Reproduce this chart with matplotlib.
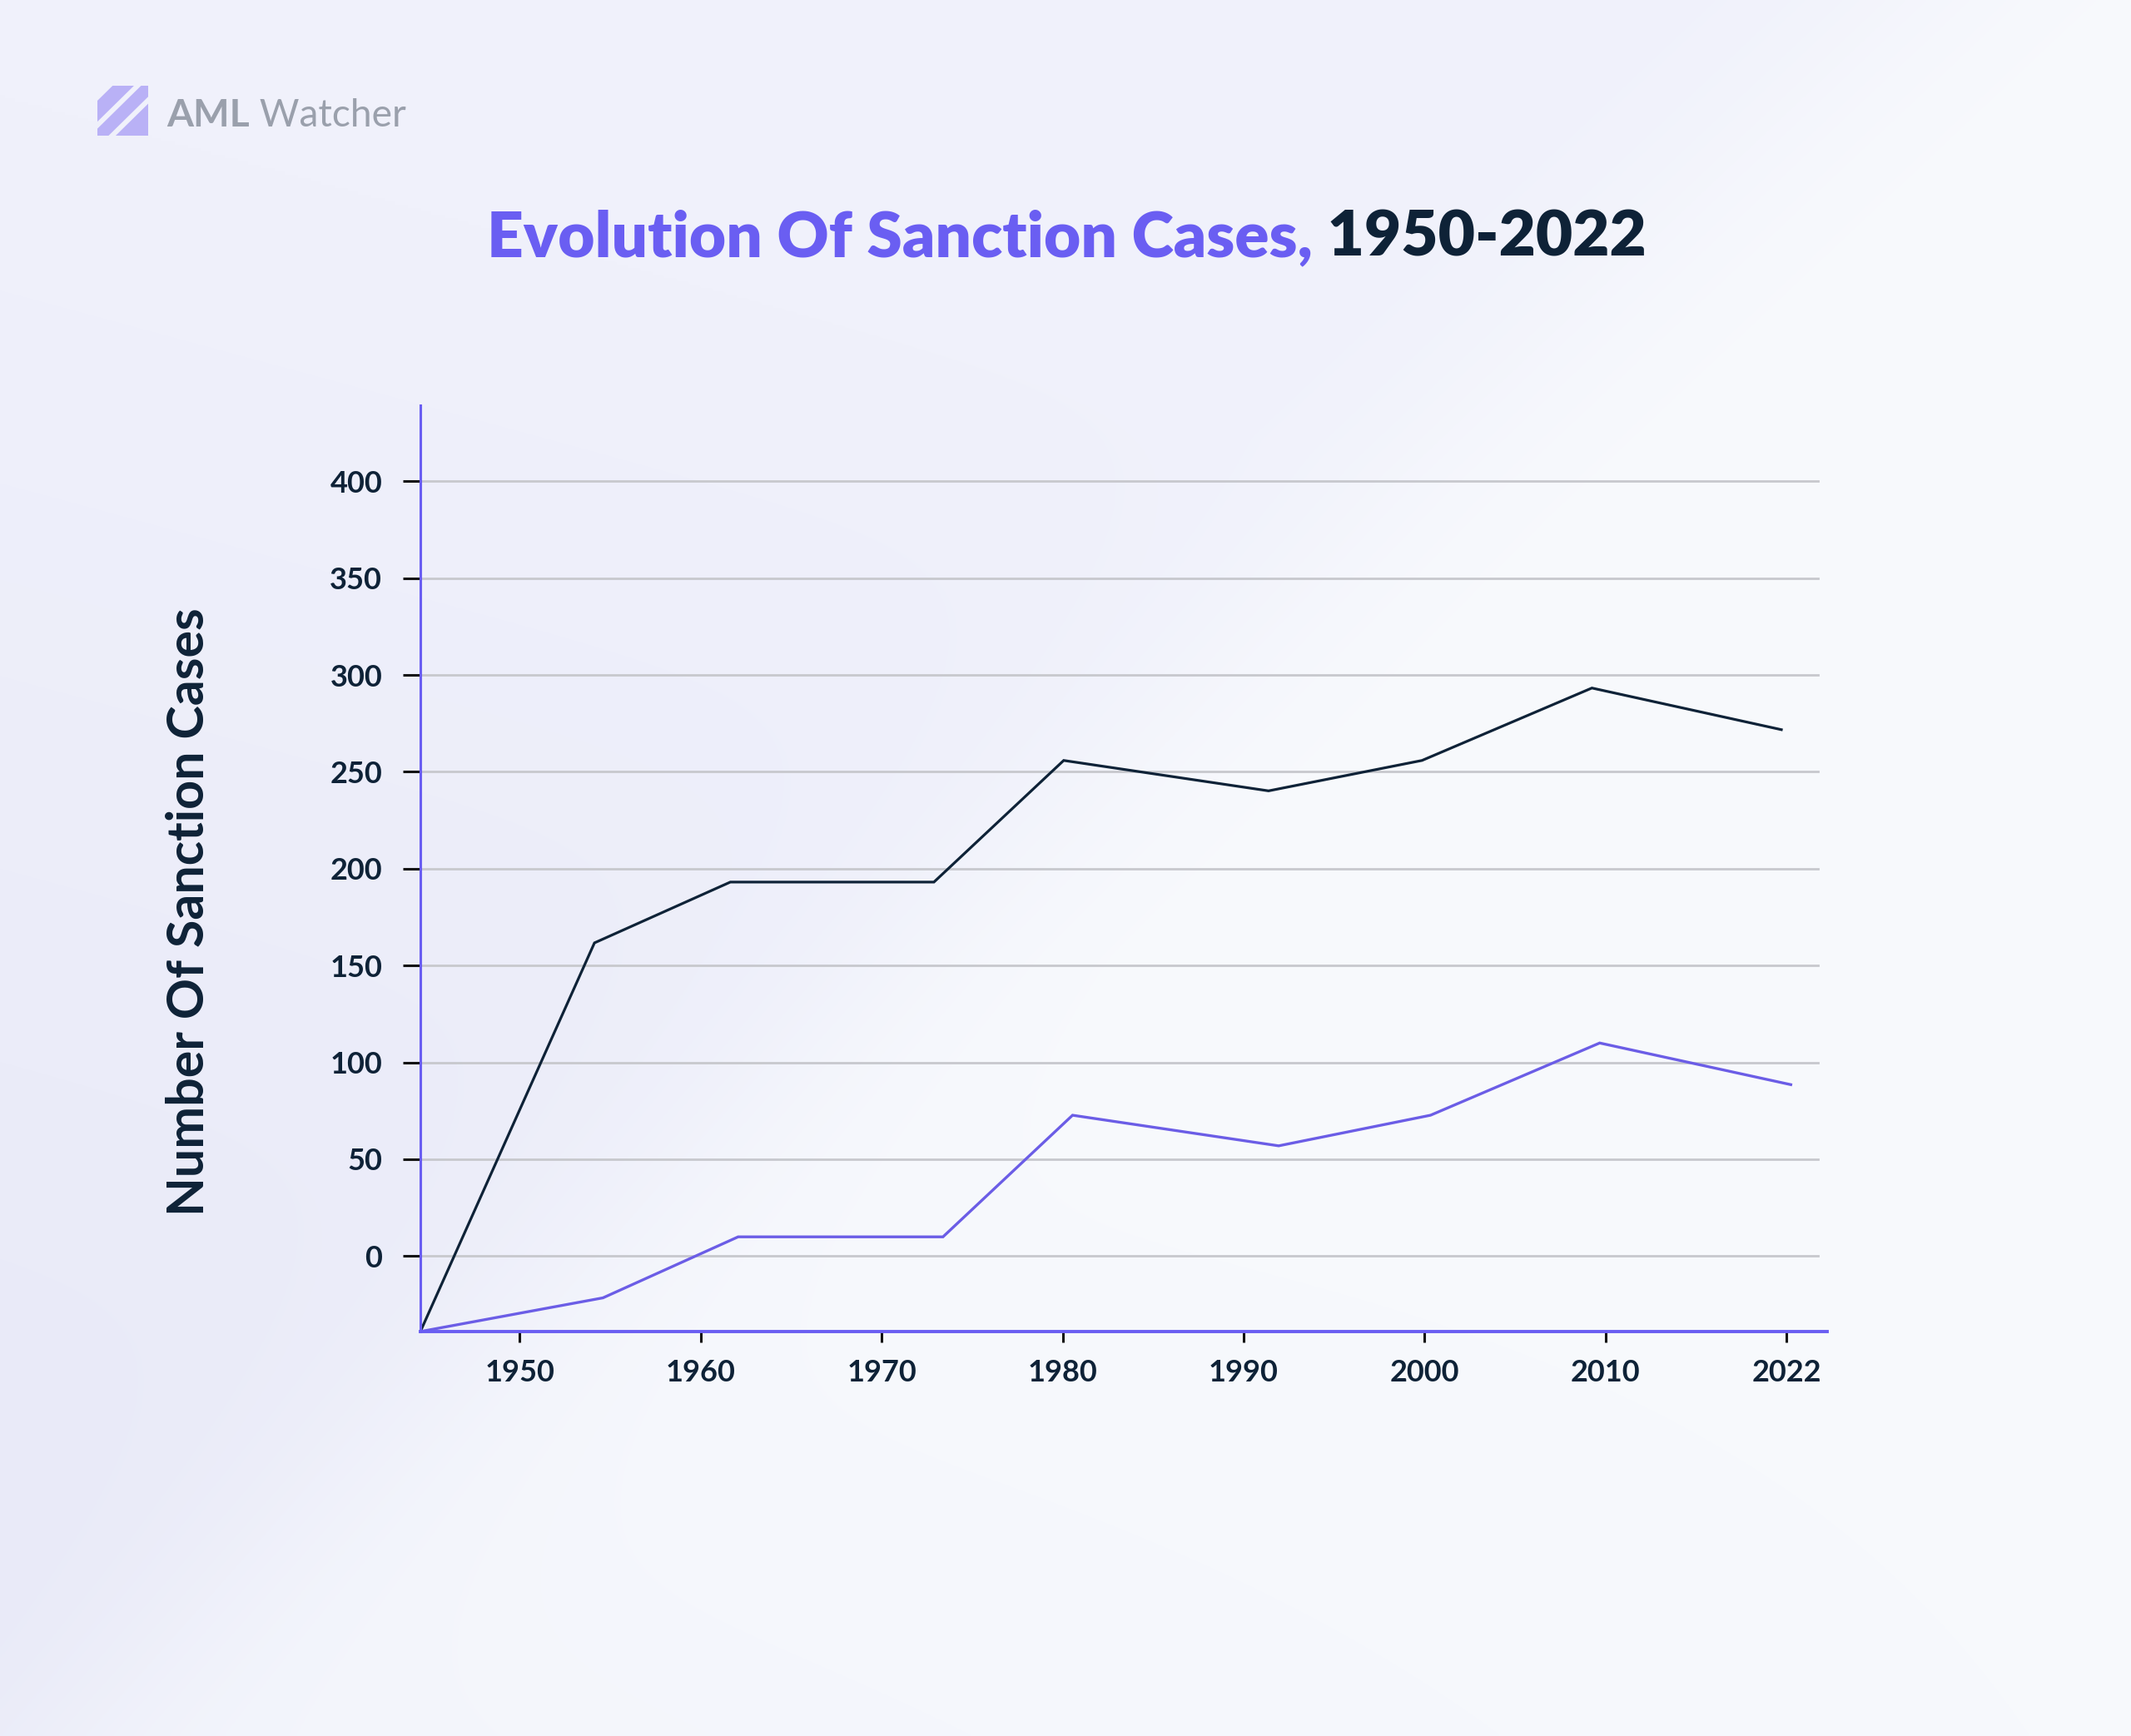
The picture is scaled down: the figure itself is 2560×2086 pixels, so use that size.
import numpy as np
import matplotlib
matplotlib.use("Agg")
import matplotlib.pyplot as plt
from matplotlib.patches import Polygon

W, H, DPI = 2560, 2086, 100

# ---------------- data ----------------
x_tick_labels = ['1950', '1960', '1970', '1980', '1990', '2000', '2010', '2022']
x_tick_pos = [0, 1, 2, 3, 4, 5, 6, 7]
y_ticks = [0, 50, 100, 150, 200, 250, 300, 350, 400]

# dark series (positions in tick-index units, values)
dark_x = [-0.549, 0.413, 1.164, 2.289, 3.006, 4.138, 4.986, 5.925, 6.972]
dark_y = [-39.0, 161.7, 193.1, 193.1, 255.9, 240.2, 255.9, 293.3, 271.8]
# purple series
purple_x = [-0.549, 0.460, 1.207, 2.339, 3.055, 4.194, 5.033, 5.968, 7.024]
purple_y = [-39.0, -21.6, 9.9, 9.9, 72.7, 56.9, 72.7, 110.0, 88.5]

title_part1 = "Evolution Of Sanction Cases,"
title_part2 = " 1950-2022"
y_label = "Number Of Sanction Cases"
logo_bold = "AML"
logo_light = " Watcher"

# ---------------- style ----------------
PURPLE = "#6A5EF2"
LINE_PURPLE = "#6B5DE6"
NAVY = "#0E2237"
GRID = "#C7C8CD"
LOGO_GRAY = "#9AA0AC"
ICON = "#B9B1F6"
FONT = "Lato"

fig = plt.figure(figsize=(W / DPI, H / DPI), dpi=DPI)

# ---------------- background ----------------
bg = fig.add_axes([0, 0, 1, 1], zorder=-10)
bg.axis('off')
ys, xs = np.mgrid[0:H:4, 0:W:4].astype(float)
yf = ys / H
xf = xs / W
lav_dark = np.array([230, 231, 247]) / 255.0
lav_light = np.array([240, 241, 251]) / 255.0
white = np.array([248, 250, 253]) / 255.0
tint = np.array([241, 243, 251]) / 255.0
a = np.clip(yf * 0.9 + (1 - xf) * 0.3 - 0.35, 0, 1)[..., None]
left_col = lav_light * (1 - a) + lav_dark * a
b = np.clip((yf - 0.55) * 1.6, 0, 1) * np.clip(1.2 - xf, 0, 1) * 0.8
b = b[..., None]
right_col = white * (1 - b) + tint * b
s = 1.0 / (1.0 + np.exp(-(xs - (2287 - 1.06 * ys)) / 110.0))
s = s[..., None]
img = left_col * (1 - s) + right_col * s
bg.imshow(img, extent=[0, W, H, 0], aspect='auto', interpolation='bilinear')
bg.set_xlim(0, W)
bg.set_ylim(H, 0)

# ---------------- main axes ----------------
L, R, T, B = 505, 2195, 487, 1600
ax = fig.add_axes([L / W, 1 - B / H, (R - L) / W, (B - T) / H])
ax.patch.set_alpha(0)
ax.set_xlim(-0.549, 7.225)
ax.set_ylim(-39.0, 439.3)

for yv in y_ticks:
    ax.axhline(yv, xmin=0, xmax=0.9935, color=GRID, lw=2.0, zorder=1)

ax.plot(dark_x, dark_y, color=NAVY, lw=2.3, zorder=3, solid_joinstyle='miter')
ax.plot(purple_x, purple_y, color=LINE_PURPLE, lw=2.4, zorder=3, solid_joinstyle='miter')

for side in ['top', 'right']:
    ax.spines[side].set_visible(False)
ax.spines['left'].set_color(PURPLE)
ax.spines['left'].set_linewidth(2.2)
ax.spines['bottom'].set_color(PURPLE)
ax.spines['bottom'].set_linewidth(2.8)
ax.spines['left'].set_zorder(4)
ax.spines['bottom'].set_zorder(4)

ax.set_xticks(x_tick_pos)
ax.set_xticklabels(x_tick_labels)
ax.set_yticks(y_ticks)
ax.set_yticklabels([str(v) for v in y_ticks])
ax.tick_params(axis='y', direction='out', length=15, width=2.2, color='#111111', pad=18)
ax.tick_params(axis='x', direction='out', length=9.5, width=2.2, color='#111111', pad=14)
for lab in ax.get_xticklabels() + ax.get_yticklabels():
    lab.set_fontfamily(FONT)
    lab.set_fontweight('bold')
    lab.set_fontsize(26)
    lab.set_color(NAVY)

# ---------------- texts ----------------
fig.canvas.draw()
r = fig.canvas.get_renderer()

def wpx(tx):
    return tx.get_window_extent(renderer=r).width

# title
t1 = fig.text(0, 0, title_part1, fontfamily=FONT, fontweight='heavy', fontsize=53, color=PURPLE, va='baseline')
t2 = fig.text(0, 0, title_part2, fontfamily=FONT, fontweight='heavy', fontsize=53, color=NAVY, va='baseline')
scale = 1394.0 / (wpx(t1) + wpx(t2))
t1.set_fontsize(53 * scale)
t2.set_fontsize(53 * scale)
w1 = wpx(t1)
t1.set_position((585 / W, 1 - 308 / H))
t2.set_position(((585 + w1) / W, 1 - 308 / H))

# y label
yl = fig.text(227 / W, 1 - 1096 / H, y_label, fontfamily=FONT, fontweight='bold', fontsize=44,
              color=NAVY, rotation=90, ha='center', va='center')
ext = yl.get_window_extent(renderer=r)
yl.set_fontsize(44 * 731.0 / ext.height)

# logo text
lb = fig.text(0, 0, logo_bold, fontfamily=FONT, fontweight='bold', fontsize=38, color=LOGO_GRAY, va='baseline')
ll = fig.text(0, 0, logo_light, fontfamily=FONT, fontweight='normal', fontsize=38, color=LOGO_GRAY, va='baseline')
sc = 288.0 / (wpx(lb) + wpx(ll))
lb.set_fontsize(38 * sc)
ll.set_fontsize(38 * sc)
wb = wpx(lb)
lb.set_position((200 / W, 1 - 152 / H))
ll.set_position(((200 + wb) / W, 1 - 152 / H))

# logo icon
ic = fig.add_axes([117 / W, 1 - 163 / H, 61 / W, 60 / H])
ic.axis('off')
ic.set_xlim(0, 1)
ic.set_ylim(0, 1)
ic.patch.set_alpha(0)
def band(c0, c1):
    xs_ = np.linspace(0, 1, 200)
    lo = np.clip(xs_ + c0, 0, 1)
    hi = np.clip(xs_ + c1, 0, 1)
    m = hi > lo
    xs_m = xs_[m]
    return np.column_stack([np.r_[xs_m, xs_m[::-1]], np.r_[lo[m], hi[m][::-1]]])
for c0, c1 in [(0.28, 0.70), (-0.22, 0.14), (-1.0, -0.36)]:
    ic.add_patch(Polygon(band(c0, c1), closed=True, facecolor=ICON, edgecolor='none'))

fig.savefig("out.png", dpi=DPI)
